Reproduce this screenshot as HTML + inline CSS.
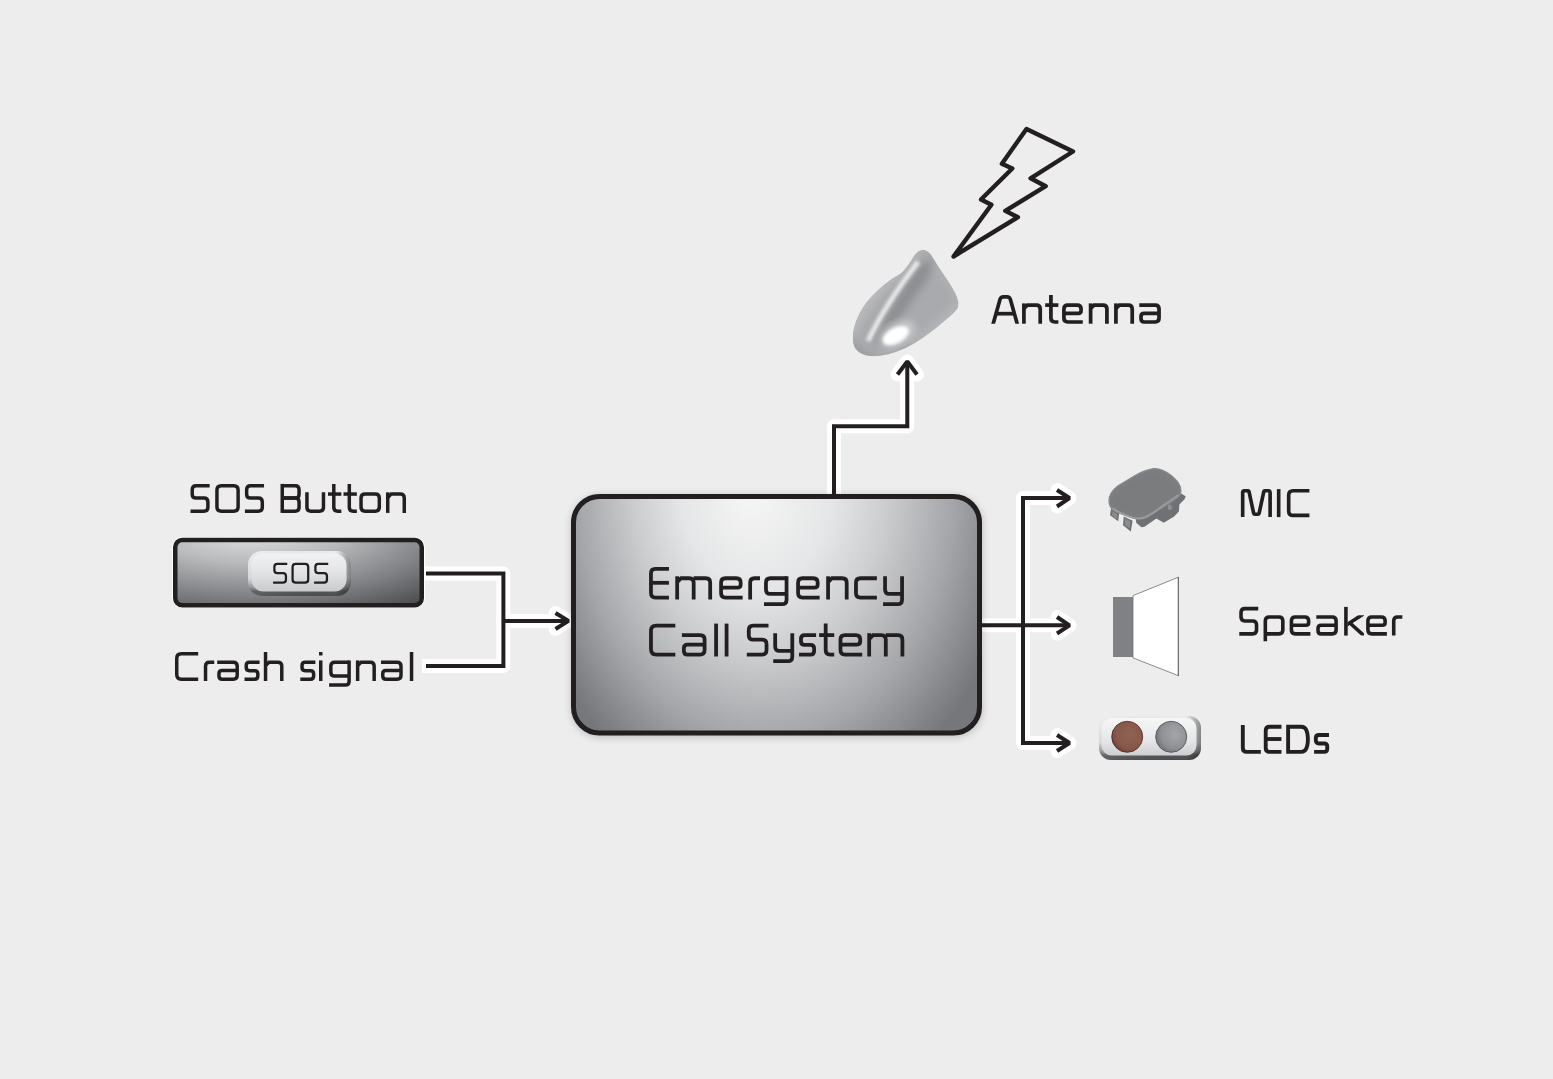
<!DOCTYPE html>
<html><head><meta charset="utf-8">
<style>
html,body{margin:0;padding:0;background:#ededed;width:1553px;height:1079px;overflow:hidden;font-family:"Liberation Sans",sans-serif;}
svg{display:block;position:absolute;left:0;top:0;}
</style></head><body>
<svg width="1553" height="1079" viewBox="0 0 1553 1079">
<defs>
  <radialGradient id="gMain" gradientUnits="userSpaceOnUse" cx="770" cy="490" fx="745" fy="490" r="330" gradientTransform="translate(770 490) scale(0.758 1) translate(-770 -490)">
    <stop offset="0" stop-color="#f6f6f6"/>
    <stop offset="0.3" stop-color="#e5e6e7"/>
    <stop offset="0.5" stop-color="#cccdcf"/>
    <stop offset="0.75" stop-color="#a4a6a9"/>
    <stop offset="1" stop-color="#76777a"/>
  </radialGradient>
  <radialGradient id="gSos" gradientUnits="userSpaceOnUse" cx="250" cy="528" r="270" gradientTransform="translate(250 528) scale(1 0.36) translate(-250 -528)">
    <stop offset="0" stop-color="#e4e5e6"/>
    <stop offset="0.35" stop-color="#b9bbbd"/>
    <stop offset="0.7" stop-color="#7f8184"/>
    <stop offset="1" stop-color="#4a4b4d"/>
  </radialGradient>
  <linearGradient id="gPillOuter" x1="0" y1="0" x2="0" y2="1">
    <stop offset="0" stop-color="#eeeeef"/>
    <stop offset="0.6" stop-color="#d2d3d5"/>
    <stop offset="0.8" stop-color="#8e9093"/>
    <stop offset="0.9" stop-color="#555659"/>
    <stop offset="1" stop-color="#4c4d4f"/>
  </linearGradient>
  <linearGradient id="gPillOuterH" x1="0" y1="0" x2="1" y2="0">
    <stop offset="0" stop-color="#ffffff" stop-opacity="0.1"/>
    <stop offset="0.85" stop-color="#000000" stop-opacity="0"/>
    <stop offset="1" stop-color="#000000" stop-opacity="0.4"/>
  </linearGradient>
  <linearGradient id="gPill" x1="0" y1="0" x2="0" y2="1">
    <stop offset="0" stop-color="#f2f2f3"/>
    <stop offset="0.5" stop-color="#e2e3e4"/>
    <stop offset="1" stop-color="#c9cacc"/>
  </linearGradient>
  <linearGradient id="gAnt" x1="0" y1="0" x2="1" y2="0.3">
    <stop offset="0" stop-color="#bdbec0"/>
    <stop offset="0.45" stop-color="#a9abae"/>
    <stop offset="0.7" stop-color="#8f9194"/>
    <stop offset="1" stop-color="#a6a8ab"/>
  </linearGradient>
  <radialGradient id="gAntHi" cx="0.5" cy="0.5" r="0.5">
    <stop offset="0" stop-color="#ffffff"/>
    <stop offset="0.6" stop-color="#f4f4f4"/>
    <stop offset="1" stop-color="#f4f4f4" stop-opacity="0"/>
  </radialGradient>
  <linearGradient id="gLed" x1="0" y1="0" x2="0" y2="1">
    <stop offset="0" stop-color="#f5f6f6"/>
    <stop offset="0.6" stop-color="#e6e7e8"/>
    <stop offset="1" stop-color="#cdced0"/>
  </linearGradient>
  <radialGradient id="gLedGray" cx="0.62" cy="0.42" r="0.65">
    <stop offset="0" stop-color="#a3a5a8"/>
    <stop offset="0.7" stop-color="#8e9093"/>
    <stop offset="1" stop-color="#6f7174"/>
  </radialGradient>
  <radialGradient id="gLedRed" cx="0.6" cy="0.4" r="0.65">
    <stop offset="0" stop-color="#8f6253"/>
    <stop offset="0.75" stop-color="#87584a"/>
    <stop offset="1" stop-color="#6a3f32"/>
  </radialGradient>
  <filter id="fShadow" x="-10%" y="-10%" width="120%" height="120%">
    <feGaussianBlur stdDeviation="4"/>
  </filter>
  <filter id="fAnt" x="-20%" y="-20%" width="140%" height="140%"><feGaussianBlur stdDeviation="40"/></filter>
  <filter id="fAnt2" x="-20%" y="-20%" width="140%" height="140%"><feGaussianBlur stdDeviation="10"/></filter>
  <filter id="fAnt3" x="-30%" y="-30%" width="160%" height="160%"><feGaussianBlur stdDeviation="16"/></filter>
  <filter id="fMic" x="-10%" y="-10%" width="120%" height="120%"><feGaussianBlur stdDeviation="0.9"/></filter>
  <filter id="fBlur1" x="-10%" y="-10%" width="120%" height="120%">
    <feGaussianBlur stdDeviation="0.6"/>
  </filter>
</defs>

<!-- connectors: white halo -->
<g fill="none" stroke="#ffffff" stroke-width="14" stroke-linejoin="round" stroke-linecap="butt">
  <path d="M422 573.4 H503.4 V665.9 H422"/>
</g>
<g fill="none" stroke="#ffffff" stroke-width="14" stroke-linejoin="round" stroke-linecap="round">
  <path d="M503.4 620.9 H567"/>
  <path d="M555.5 613 L567.5 620.9 L555.5 629"/>
  <path d="M834 494 V426.3 H907.3 V364"/>
  <path d="M897.5 374.5 L907.3 361.5 L917 374.5"/>
  <path d="M982 625.3 H1069"/>
  <path d="M1069 498 H1023 V743 H1069"/>
  <path d="M1057.5 490 L1069.5 498 L1057.5 506.5"/>
  <path d="M1057.5 617 L1069.5 625.3 L1057.5 633.5"/>
  <path d="M1057.5 735 L1069.5 743 L1057.5 751"/>
</g>
<g fill="none" stroke="#231f20" stroke-width="4" stroke-linejoin="miter" stroke-linecap="butt">
  <path d="M426 573.4 H503.4 V665.9 H426"/>
  <path d="M503.4 620.9 H567"/>
  <path d="M834 496 V426.3 H907.3 V364"/>
  <path d="M980 625.3 H1068"/>
  <path d="M1069 498 H1023 V743 H1069"/>
</g>
<g fill="none" stroke="#231f20" stroke-width="4" stroke-linejoin="bevel" stroke-linecap="butt">
  <path d="M555.5 613 L568.5 620.9 L555.5 629"/>
  <path d="M897.5 374.5 L907.3 361.5 L917 374.5"/>
  <path d="M1057 490 L1069.5 498 L1057 506.5"/>
  <path d="M1057 617 L1069.5 625.3 L1057 633.5"/>
  <path d="M1057 735 L1069.5 743 L1057 751"/>
</g>

<!-- main box -->
<rect x="572" y="496" width="410" height="241" rx="28" fill="#000" opacity="0.22" filter="url(#fShadow)"/>
<rect x="573.5" y="496.5" width="406" height="236.5" rx="26" fill="url(#gMain)" stroke="#231f20" stroke-width="5"/>

<!-- SOS box -->
<rect x="172" y="537" width="253" height="71" rx="10" fill="#ffffff"/>
<rect x="175.25" y="540" width="246.5" height="65.3" rx="7" fill="url(#gSos)" stroke="#231f20" stroke-width="4.5"/>
<rect x="248" y="551" width="103" height="45" rx="14" fill="url(#gPillOuter)"/>
<rect x="248" y="551" width="103" height="45" rx="14" fill="url(#gPillOuterH)"/>
<rect x="251.5" y="553.5" width="95" height="38" rx="12" fill="url(#gPill)" filter="url(#fBlur1)"/>

<!-- antenna -->
<g transform="translate(845 245) scale(0.11121)">
  <clipPath id="antClip"><path id="antPath" d="M700 45 C735 45 770 70 800 130 C830 180 890 270 930 330 C970 390 1015 470 1020 520 C1022 560 1005 580 990 595 C940 645 860 710 800 760 C720 820 640 880 560 920 C480 958 380 995 280 1000 C200 1003 130 980 95 930 C65 890 65 820 80 750 C100 670 140 590 195 515 C255 440 330 370 420 305 C460 280 500 260 520 240 C560 200 590 150 620 100 C645 65 670 45 700 45 Z"/></clipPath>
  <g clip-path="url(#antClip)">
    <rect x="0" y="0" width="1100" height="1100" fill="#a8aaad"/>
    <g filter="url(#fAnt)">
      <path d="M60 900 C120 700 300 450 520 250 C600 170 650 80 700 40 L560 20 L0 600 Z" fill="#b9babc"/>
      <path d="M260 880 C330 700 480 450 640 220 L760 120 C800 180 780 260 700 360 C560 560 420 760 330 900 Z" fill="#8b8d90"/>
      <path d="M600 880 C720 780 880 640 1000 520 L1100 560 L1100 1000 L600 1000 Z" fill="#b3b5b7"/>
      <path d="M820 220 C880 300 950 400 1000 520 L1100 480 L900 150 Z" fill="#b0b2b4"/>
      <path d="M60 820 C80 900 160 980 300 990 L120 1100 L0 1000 Z" fill="#9a9c9e"/>
    </g>
    <path d="M205 865 C300 660 450 420 660 150" fill="none" stroke="#d8d9da" stroke-width="50" filter="url(#fAnt3)"/>
    <path d="M215 850 C310 650 460 410 650 160" fill="none" stroke="#eeeeef" stroke-width="14" filter="url(#fAnt2)"/>
    <ellipse cx="470" cy="800" rx="170" ry="90" transform="rotate(-28 470 800)" fill="#d0d1d3" filter="url(#fAnt)"/>
    <ellipse cx="455" cy="815" rx="125" ry="68" transform="rotate(-28 455 815)" fill="#ffffff" filter="url(#fAnt3)"/>
  </g>
</g>

<!-- lightning -->
<path d="M1026.5 129 L1073 151.5 L1030.6 178.3 L1045.7 186.2 L1005.3 210.9 L1017.9 217.2 L953.5 256.5 L991.4 204.7 L981 199.5 L1012.3 168.5 L1001.9 163.7 Z" fill="none" stroke="#231f20" stroke-width="4.4" stroke-linejoin="round"/>

<!-- MIC -->
<g transform="translate(1100 460) scale(0.07418)" filter="url(#fMic)">
  <path d="M150 650 L260 710 L245 825 L135 745 Z" fill="#6f7073"/>
  <path d="M320 760 L440 820 L415 965 L310 880 Z" fill="#6f7073"/>
  <path d="M170 690 L235 730 L230 800 L160 745 Z" fill="#8b8c8f"/>
  <path d="M340 790 L410 830 L400 920 L330 870 Z" fill="#8b8c8f"/>
  <path d="M480 790 L1060 430 L1155 490 L1140 530 L1070 600 L1065 690 L1000 760 L860 845 L760 790 L600 900 L560 905 L490 850 Z" fill="#707174"/>
  <path d="M920 600 C960 590 990 630 960 670 C930 690 900 660 920 600 Z" fill="#8e8f92"/>
  <path d="M122 560 C118 480 150 420 240 350 L440 230 C520 180 600 140 720 118 C800 110 870 140 960 210 C1040 280 1090 330 1090 420 C1090 470 1060 500 1000 540 L640 770 C580 800 520 805 440 780 L240 705 C170 680 125 630 122 560 Z" fill="#7c7d80" stroke="#8a8b8e" stroke-width="18"/>
  <path d="M190 560 C190 500 220 460 290 410 L470 300 C540 260 620 220 710 200 C780 190 840 220 910 270 C980 320 1010 360 1010 420 C1010 450 990 470 950 500 L620 700 C570 730 520 735 460 715 L280 650 C220 630 190 600 190 560 Z" fill="#7a7b7e"/>
  <path d="M170 650 C250 710 350 750 450 780 C540 800 600 780 700 720 L1060 470" fill="none" stroke="#9c9d9f" stroke-width="24"/>
</g>

<!-- speaker -->
<rect x="1113" y="597" width="20" height="60" fill="#808184"/>
<path d="M1133 595.6 L1178.4 577.2 L1178.4 675.7 L1133 657.9 Z" fill="#ffffff" stroke="#6d6e71" stroke-width="0.8"/>
<line x1="1178.4" y1="577" x2="1178.4" y2="676" stroke="#6d6e71" stroke-width="1.2"/>

<!-- LEDs -->
<rect x="1099" y="716" width="102" height="44" rx="12" fill="url(#gPillOuter)"/>
<rect x="1099" y="716" width="102" height="44" rx="12" fill="url(#gPillOuterH)"/>
<rect x="1101.5" y="718" width="95" height="37.5" rx="10" fill="url(#gLed)" filter="url(#fBlur1)"/>
<circle cx="1127.2" cy="736.8" r="15.5" fill="url(#gLedRed)" stroke="#5a3327" stroke-width="0.9"/>
<circle cx="1171.2" cy="736.8" r="15.5" fill="url(#gLedGray)" stroke="#55565a" stroke-width="0.9"/>

<defs><clipPath id="c57469128" clipPathUnits="userSpaceOnUse"><rect x="-20.00" y="-120.00" width="140.00" height="120.00"/></clipPath><clipPath id="c72103183" clipPathUnits="userSpaceOnUse"><rect x="11.50" y="-71.00" width="57.50" height="71.00"/></clipPath></defs>
<g fill="none" stroke="#231f20" stroke-width="12.00" stroke-linecap="butt" stroke-linejoin="miter"><g transform="translate(190.50 512.90) scale(0.2900)"><path d="M66.00 -94.00 L19.50 -94.00 Q6.00 -94.00 6.00 -80.50 L6.00 -64.50 Q6.00 -51.00 19.50 -51.00 L46.50 -51.00 Q60.00 -51.00 60.00 -37.50 L60.00 -19.50 Q60.00 -6.00 46.50 -6.00 L0.00 -6.00"/></g><g transform="translate(215.20 512.90) scale(0.2900)"><path d="M21.00 -94.00 L64.00 -94.00 Q79.00 -94.00 79.00 -79.00 L79.00 -21.00 Q79.00 -6.00 64.00 -6.00 L21.00 -6.00 Q6.00 -6.00 6.00 -21.00 L6.00 -79.00 Q6.00 -94.00 21.00 -94.00 Z"/></g><g transform="translate(244.90 512.90) scale(0.2900)"><path d="M66.00 -94.00 L19.50 -94.00 Q6.00 -94.00 6.00 -80.50 L6.00 -64.50 Q6.00 -51.00 19.50 -51.00 L46.50 -51.00 Q60.00 -51.00 60.00 -37.50 L60.00 -19.50 Q60.00 -6.00 46.50 -6.00 L0.00 -6.00"/></g><g transform="translate(280.50 512.90) scale(0.2900)"><path d="M6.00 0.00 L6.00 -100.00"/><path d="M6.00 -94.00 L50.50 -94.00 Q64.00 -94.00 64.00 -80.50 L64.00 -64.50 Q64.00 -51.00 50.50 -51.00 L6.00 -51.00"/><path d="M6.00 -51.00 L50.50 -51.00 Q64.00 -51.00 64.00 -37.50 L64.00 -19.50 Q64.00 -6.00 50.50 -6.00 L6.00 -6.00"/></g><g transform="translate(305.20 512.90) scale(0.2900)"><path d="M6.00 -71.00 L6.00 -19.50 Q6.00 -6.00 19.50 -6.00 L49.50 -6.00 Q63.00 -6.00 63.00 -19.50 L63.00 -71.00"/></g><g transform="translate(328.00 512.90) scale(0.2900)"><path d="M20.00 -100.00 L20.00 -19.50 Q20.00 -6.00 33.50 -6.00 L46.00 -6.00"/><path d="M0.00 -65.00 L46.00 -65.00"/></g><g transform="translate(343.50 512.90) scale(0.2900)"><path d="M20.00 -100.00 L20.00 -19.50 Q20.00 -6.00 33.50 -6.00 L46.00 -6.00"/><path d="M0.00 -65.00 L46.00 -65.00"/></g><g transform="translate(359.30 512.90) scale(0.2900)"><path d="M20.00 -65.00 L55.00 -65.00 Q69.00 -65.00 69.00 -51.00 L69.00 -20.00 Q69.00 -6.00 55.00 -6.00 L20.00 -6.00 Q6.00 -6.00 6.00 -20.00 L6.00 -51.00 Q6.00 -65.00 20.00 -65.00 Z"/></g><g transform="translate(386.00 512.90) scale(0.2900)"><path d="M6.00 0.00 L6.00 -71.00"/><path d="M6.00 -53.00 L18.00 -65.00 L49.50 -65.00 Q63.00 -65.00 63.00 -51.50 L63.00 0.00"/></g></g>
<g fill="none" stroke="#231f20" stroke-width="12.00" stroke-linecap="butt" stroke-linejoin="miter"><g transform="translate(175.00 681.00) scale(0.2900)"><path d="M80.00 -94.00 L22.00 -94.00 Q6.00 -94.00 6.00 -78.00 L6.00 -22.00 Q6.00 -6.00 22.00 -6.00 L80.00 -6.00"/></g><g transform="translate(203.80 681.00) scale(0.2900)"><path d="M6.00 0.00 L6.00 -51.50 Q6.00 -65.00 19.50 -65.00 L36.00 -65.00"/></g><g transform="translate(217.20 681.00) scale(0.2900)"><path d="M0.00 -65.00 L55.50 -65.00 Q69.00 -65.00 69.00 -51.50 L69.00 -19.50 Q69.00 -6.00 55.50 -6.00 L17.00 -6.00 Q6.00 -6.00 6.00 -17.00 L6.00 -25.00 Q6.00 -36.00 17.00 -36.00 L69.00 -36.00"/></g><g transform="translate(244.50 681.00) scale(0.2900)"><path d="M52.00 -65.00 L17.00 -65.00 Q6.00 -65.00 6.00 -54.00 L6.00 -46.50 Q6.00 -35.50 17.00 -35.50 L35.00 -35.50 Q46.00 -35.50 46.00 -24.50 L46.00 -17.00 Q46.00 -6.00 35.00 -6.00 L0.00 -6.00"/></g><g transform="translate(263.80 681.00) scale(0.2900)"><path d="M6.00 0.00 L6.00 -100.00"/><path d="M6.00 -53.00 L18.00 -65.00 L48.50 -65.00 Q62.00 -65.00 62.00 -51.50 L62.00 0.00"/></g><g transform="translate(300.30 681.00) scale(0.2900)"><path d="M52.00 -65.00 L17.00 -65.00 Q6.00 -65.00 6.00 -54.00 L6.00 -46.50 Q6.00 -35.50 17.00 -35.50 L35.00 -35.50 Q46.00 -35.50 46.00 -24.50 L46.00 -17.00 Q46.00 -6.00 35.00 -6.00 L0.00 -6.00"/></g><g transform="translate(319.00 681.00) scale(0.2900)"><path d="M6.00 0.00 L6.00 -71.00"/><rect x="0.00" y="-100.00" width="12.00" height="12.00" fill="#231f20" stroke="none"/></g><g transform="translate(329.10 681.00) scale(0.2900)"><path d="M69.00 -65.00 L19.50 -65.00 Q6.00 -65.00 6.00 -51.50 L6.00 -30.50 Q6.00 -17.00 19.50 -17.00 L69.00 -17.00"/><path d="M69.00 -71.00 L69.00 0.50 Q69.00 14.00 55.50 14.00 L0.00 14.00"/></g><g transform="translate(355.90 681.00) scale(0.2900)"><path d="M6.00 0.00 L6.00 -71.00"/><path d="M6.00 -53.00 L18.00 -65.00 L49.50 -65.00 Q63.00 -65.00 63.00 -51.50 L63.00 0.00"/></g><g transform="translate(381.00 681.00) scale(0.2900)"><path d="M0.00 -65.00 L55.50 -65.00 Q69.00 -65.00 69.00 -51.50 L69.00 -19.50 Q69.00 -6.00 55.50 -6.00 L17.00 -6.00 Q6.00 -6.00 6.00 -17.00 L6.00 -25.00 Q6.00 -36.00 17.00 -36.00 L69.00 -36.00"/></g><g transform="translate(409.80 681.00) scale(0.2900)"><path d="M6.00 0.00 L6.00 -100.00"/></g></g>
<g fill="none" stroke="#231f20" stroke-width="11.50" stroke-linecap="butt" stroke-linejoin="miter"><g transform="translate(649.00 599.50) scale(0.3270)"><path d="M61.00 -94.00 L19.50 -94.00 Q6.00 -94.00 6.00 -80.50 L6.00 -19.50 Q6.00 -6.00 19.50 -6.00 L61.00 -6.00"/><path d="M6.00 -51.00 L61.00 -51.00"/></g><g transform="translate(675.20 599.50) scale(0.3270)"><path d="M6.00 0.00 L6.00 -71.00"/><path d="M6.00 -53.00 L18.00 -65.00 L43.00 -65.00 Q56.50 -65.00 56.50 -51.50 L56.50 0.00"/><path d="M56.50 -65.00 L93.50 -65.00 Q107.00 -65.00 107.00 -51.50 L107.00 0.00"/></g><g transform="translate(719.10 599.50) scale(0.3270)"><path d="M6.00 -36.00 L56.00 -36.00 Q66.00 -36.00 66.00 -46.00 L66.00 -51.50 Q66.00 -65.00 52.50 -65.00 L19.50 -65.00 Q6.00 -65.00 6.00 -51.50 L6.00 -19.50 Q6.00 -6.00 19.50 -6.00 L72.00 -6.00"/></g><g transform="translate(748.20 599.50) scale(0.3270)"><path d="M6.00 0.00 L6.00 -51.50 Q6.00 -65.00 19.50 -65.00 L36.00 -65.00"/></g><g transform="translate(764.00 599.50) scale(0.3270)"><path d="M69.00 -65.00 L19.50 -65.00 Q6.00 -65.00 6.00 -51.50 L6.00 -30.50 Q6.00 -17.00 19.50 -17.00 L69.00 -17.00"/><path d="M69.00 -71.00 L69.00 0.50 Q69.00 14.00 55.50 14.00 L0.00 14.00"/></g><g transform="translate(796.10 599.50) scale(0.3270)"><path d="M6.00 -36.00 L56.00 -36.00 Q66.00 -36.00 66.00 -46.00 L66.00 -51.50 Q66.00 -65.00 52.50 -65.00 L19.50 -65.00 Q6.00 -65.00 6.00 -51.50 L6.00 -19.50 Q6.00 -6.00 19.50 -6.00 L72.00 -6.00"/></g><g transform="translate(826.10 599.50) scale(0.3270)"><path d="M6.00 0.00 L6.00 -71.00"/><path d="M6.00 -53.00 L18.00 -65.00 L49.50 -65.00 Q63.00 -65.00 63.00 -51.50 L63.00 0.00"/></g><g transform="translate(854.00 599.50) scale(0.3270)"><path d="M70.00 -65.00 L20.00 -65.00 Q6.00 -65.00 6.00 -51.00 L6.00 -20.00 Q6.00 -6.00 20.00 -6.00 L70.00 -6.00"/></g><g transform="translate(883.10 599.50) scale(0.3270)"><path d="M6.00 -71.00 L6.00 -30.50 Q6.00 -17.00 19.50 -17.00 L58.00 -17.00"/><path d="M58.00 -71.00 L58.00 0.50 Q58.00 14.00 44.50 14.00 L0.00 14.00"/></g></g>
<g fill="none" stroke="#231f20" stroke-width="11.50" stroke-linecap="butt" stroke-linejoin="miter"><g transform="translate(649.00 656.50) scale(0.3290)"><path d="M80.00 -94.00 L22.00 -94.00 Q6.00 -94.00 6.00 -78.00 L6.00 -22.00 Q6.00 -6.00 22.00 -6.00 L80.00 -6.00"/></g><g transform="translate(681.90 656.50) scale(0.3290)"><path d="M0.00 -65.00 L55.50 -65.00 Q69.00 -65.00 69.00 -51.50 L69.00 -19.50 Q69.00 -6.00 55.50 -6.00 L17.00 -6.00 Q6.00 -6.00 6.00 -17.00 L6.00 -25.00 Q6.00 -36.00 17.00 -36.00 L69.00 -36.00"/></g><g transform="translate(714.10 656.50) scale(0.3290)"><path d="M6.00 0.00 L6.00 -100.00"/></g><g transform="translate(724.60 656.50) scale(0.3290)"><path d="M6.00 0.00 L6.00 -100.00"/></g><g transform="translate(746.80 656.50) scale(0.3290)"><path d="M66.00 -94.00 L19.50 -94.00 Q6.00 -94.00 6.00 -80.50 L6.00 -64.50 Q6.00 -51.00 19.50 -51.00 L46.50 -51.00 Q60.00 -51.00 60.00 -37.50 L60.00 -19.50 Q60.00 -6.00 46.50 -6.00 L0.00 -6.00"/></g><g transform="translate(773.20 656.50) scale(0.3290)"><path d="M6.00 -71.00 L6.00 -30.50 Q6.00 -17.00 19.50 -17.00 L58.00 -17.00"/><path d="M58.00 -71.00 L58.00 0.50 Q58.00 14.00 44.50 14.00 L0.00 14.00"/></g><g transform="translate(799.00 656.50) scale(0.3290)"><path d="M52.00 -65.00 L17.00 -65.00 Q6.00 -65.00 6.00 -54.00 L6.00 -46.50 Q6.00 -35.50 17.00 -35.50 L35.00 -35.50 Q46.00 -35.50 46.00 -24.50 L46.00 -17.00 Q46.00 -6.00 35.00 -6.00 L0.00 -6.00"/></g><g transform="translate(819.10 656.50) scale(0.3290)"><path d="M20.00 -100.00 L20.00 -19.50 Q20.00 -6.00 33.50 -6.00 L46.00 -6.00"/><path d="M0.00 -65.00 L46.00 -65.00"/></g><g transform="translate(838.50 656.50) scale(0.3290)"><path d="M6.00 -36.00 L56.00 -36.00 Q66.00 -36.00 66.00 -46.00 L66.00 -51.50 Q66.00 -65.00 52.50 -65.00 L19.50 -65.00 Q6.00 -65.00 6.00 -51.50 L6.00 -19.50 Q6.00 -6.00 19.50 -6.00 L72.00 -6.00"/></g><g transform="translate(867.20 656.50) scale(0.3290)"><path d="M6.00 0.00 L6.00 -71.00"/><path d="M6.00 -53.00 L18.00 -65.00 L43.00 -65.00 Q56.50 -65.00 56.50 -51.50 L56.50 0.00"/><path d="M56.50 -65.00 L93.50 -65.00 Q107.00 -65.00 107.00 -51.50 L107.00 0.00"/></g></g>
<g fill="none" stroke="#231f20" stroke-width="13.00" stroke-linecap="butt" stroke-linejoin="miter"><g transform="translate(991.90 323.70) scale(0.2860)"><path d="M2.84 6.00 L28.56 -85.34 Q31.00 -94.00 40.00 -94.00 L53.00 -94.00 Q62.00 -94.00 64.44 -85.34 L90.16 6.00" clip-path="url(#c57469128)"/><path d="M13.00 -35.00 L80.00 -35.00"/></g><g transform="translate(1022.20 323.70) scale(0.2860)"><path d="M6.00 0.00 L6.00 -71.00"/><path d="M6.00 -53.00 L18.00 -65.00 L49.50 -65.00 Q63.00 -65.00 63.00 -51.50 L63.00 0.00"/></g><g transform="translate(1045.20 323.70) scale(0.2860)"><path d="M20.00 -100.00 L20.00 -19.50 Q20.00 -6.00 33.50 -6.00 L46.00 -6.00"/><path d="M0.00 -65.00 L46.00 -65.00"/></g><g transform="translate(1062.20 323.70) scale(0.2860)"><path d="M6.00 -36.00 L56.00 -36.00 Q66.00 -36.00 66.00 -46.00 L66.00 -51.50 Q66.00 -65.00 52.50 -65.00 L19.50 -65.00 Q6.00 -65.00 6.00 -51.50 L6.00 -19.50 Q6.00 -6.00 19.50 -6.00 L72.00 -6.00"/></g><g transform="translate(1088.90 323.70) scale(0.2860)"><path d="M6.00 0.00 L6.00 -71.00"/><path d="M6.00 -53.00 L18.00 -65.00 L49.50 -65.00 Q63.00 -65.00 63.00 -51.50 L63.00 0.00"/></g><g transform="translate(1114.20 323.70) scale(0.2860)"><path d="M6.00 0.00 L6.00 -71.00"/><path d="M6.00 -53.00 L18.00 -65.00 L49.50 -65.00 Q63.00 -65.00 63.00 -51.50 L63.00 0.00"/></g><g transform="translate(1139.30 323.70) scale(0.2860)"><path d="M0.00 -65.00 L55.50 -65.00 Q69.00 -65.00 69.00 -51.50 L69.00 -19.50 Q69.00 -6.00 55.50 -6.00 L17.00 -6.00 Q6.00 -6.00 6.00 -17.00 L6.00 -25.00 Q6.00 -36.00 17.00 -36.00 L69.00 -36.00"/></g></g>
<g fill="none" stroke="#231f20" stroke-width="13.00" stroke-linecap="butt" stroke-linejoin="miter"><g transform="translate(1241.00 517.10) scale(0.2800)"><path d="M6.00 0.00 L6.00 -88.00 Q6.00 -94.00 12.00 -94.00 L25.00 -94.00 Q28.00 -94.00 28.63 -91.07 L45.16 -13.91 Q46.00 -10.00 50.00 -10.00 L60.00 -10.00 Q64.00 -10.00 64.84 -13.91 L81.37 -91.07 Q82.00 -94.00 85.00 -94.00 L98.00 -94.00 Q104.00 -94.00 104.00 -88.00 L104.00 0.00"/></g><g transform="translate(1277.00 517.10) scale(0.2800)"><path d="M6.00 0.00 L6.00 -100.00"/></g><g transform="translate(1287.00 517.10) scale(0.2800)"><path d="M80.00 -94.00 L22.00 -94.00 Q6.00 -94.00 6.00 -78.00 L6.00 -22.00 Q6.00 -6.00 22.00 -6.00 L80.00 -6.00"/></g></g>
<g fill="none" stroke="#231f20" stroke-width="12.50" stroke-linecap="butt" stroke-linejoin="miter"><g transform="translate(1239.30 635.60) scale(0.2870)"><path d="M66.00 -94.00 L19.50 -94.00 Q6.00 -94.00 6.00 -80.50 L6.00 -64.50 Q6.00 -51.00 19.50 -51.00 L46.50 -51.00 Q60.00 -51.00 60.00 -37.50 L60.00 -19.50 Q60.00 -6.00 46.50 -6.00 L0.00 -6.00"/></g><g transform="translate(1263.60 635.60) scale(0.2870)"><path d="M6.00 20.00 L6.00 -51.50 Q6.00 -65.00 19.50 -65.00 L53.50 -65.00 Q67.00 -65.00 67.00 -51.50 L67.00 -19.50 Q67.00 -6.00 53.50 -6.00 L0.00 -6.00"/></g><g transform="translate(1289.70 635.60) scale(0.2870)"><path d="M6.00 -36.00 L56.00 -36.00 Q66.00 -36.00 66.00 -46.00 L66.00 -51.50 Q66.00 -65.00 52.50 -65.00 L19.50 -65.00 Q6.00 -65.00 6.00 -51.50 L6.00 -19.50 Q6.00 -6.00 19.50 -6.00 L72.00 -6.00"/></g><g transform="translate(1316.30 635.60) scale(0.2870)"><path d="M0.00 -65.00 L55.50 -65.00 Q69.00 -65.00 69.00 -51.50 L69.00 -19.50 Q69.00 -6.00 55.50 -6.00 L17.00 -6.00 Q6.00 -6.00 6.00 -17.00 L6.00 -25.00 Q6.00 -36.00 17.00 -36.00 L69.00 -36.00"/></g><g transform="translate(1344.20 635.60) scale(0.2870)"><path d="M6.00 0.00 L6.00 -100.00"/><path d="M71.00 -78.00 L6.00 -36.00" clip-path="url(#c72103183)"/><path d="M20.00 -44.00 L75.00 6.00" clip-path="url(#c72103183)"/></g><g transform="translate(1366.20 635.60) scale(0.2870)"><path d="M6.00 -36.00 L56.00 -36.00 Q66.00 -36.00 66.00 -46.00 L66.00 -51.50 Q66.00 -65.00 52.50 -65.00 L19.50 -65.00 Q6.00 -65.00 6.00 -51.50 L6.00 -19.50 Q6.00 -6.00 19.50 -6.00 L72.00 -6.00"/></g><g transform="translate(1392.00 635.60) scale(0.2870)"><path d="M6.00 0.00 L6.00 -51.50 Q6.00 -65.00 19.50 -65.00 L36.00 -65.00"/></g></g>
<g fill="none" stroke="#231f20" stroke-width="13.50" stroke-linecap="butt" stroke-linejoin="miter"><g transform="translate(1241.10 753.60) scale(0.2860)"><path d="M6.00 -100.00 L6.00 -19.50 Q6.00 -6.00 19.50 -6.00 L69.00 -6.00"/></g><g transform="translate(1264.00 753.60) scale(0.2860)"><path d="M61.00 -94.00 L19.50 -94.00 Q6.00 -94.00 6.00 -80.50 L6.00 -19.50 Q6.00 -6.00 19.50 -6.00 L61.00 -6.00"/><path d="M6.00 -51.00 L61.00 -51.00"/></g><g transform="translate(1286.40 753.60) scale(0.2860)"><path d="M6.00 -94.00 L51.55 -94.00 Q65.00 -94.00 70.00 -81.51 L70.00 -81.49 Q75.00 -69.00 75.00 -55.55 L75.00 -44.45 Q75.00 -31.00 70.00 -18.51 L70.00 -18.49 Q65.00 -6.00 51.55 -6.00 L6.00 -6.00 Q6.00 -6.00 6.00 -6.00 L6.00 -94.00 Q6.00 -94.00 6.00 -94.00 Z"/></g><g transform="translate(1314.10 753.60) scale(0.2860)"><path d="M52.00 -65.00 L17.00 -65.00 Q6.00 -65.00 6.00 -54.00 L6.00 -46.50 Q6.00 -35.50 17.00 -35.50 L35.00 -35.50 Q46.00 -35.50 46.00 -24.50 L46.00 -17.00 Q46.00 -6.00 35.00 -6.00 L0.00 -6.00"/></g></g>
<g fill="none" stroke="#231f20" stroke-width="10.50" stroke-linecap="butt" stroke-linejoin="miter"><g transform="translate(273.10 584.00) scale(0.2140)"><path d="M66.00 -94.00 L19.50 -94.00 Q6.00 -94.00 6.00 -80.50 L6.00 -64.50 Q6.00 -51.00 19.50 -51.00 L46.50 -51.00 Q60.00 -51.00 60.00 -37.50 L60.00 -19.50 Q60.00 -6.00 46.50 -6.00 L0.00 -6.00"/></g><g transform="translate(291.30 584.00) scale(0.2140)"><path d="M21.00 -94.00 L64.00 -94.00 Q79.00 -94.00 79.00 -79.00 L79.00 -21.00 Q79.00 -6.00 64.00 -6.00 L21.00 -6.00 Q6.00 -6.00 6.00 -21.00 L6.00 -79.00 Q6.00 -94.00 21.00 -94.00 Z"/></g><g transform="translate(314.10 584.00) scale(0.2140)"><path d="M66.00 -94.00 L19.50 -94.00 Q6.00 -94.00 6.00 -80.50 L6.00 -64.50 Q6.00 -51.00 19.50 -51.00 L46.50 -51.00 Q60.00 -51.00 60.00 -37.50 L60.00 -19.50 Q60.00 -6.00 46.50 -6.00 L0.00 -6.00"/></g></g>
</svg>
</body></html>
